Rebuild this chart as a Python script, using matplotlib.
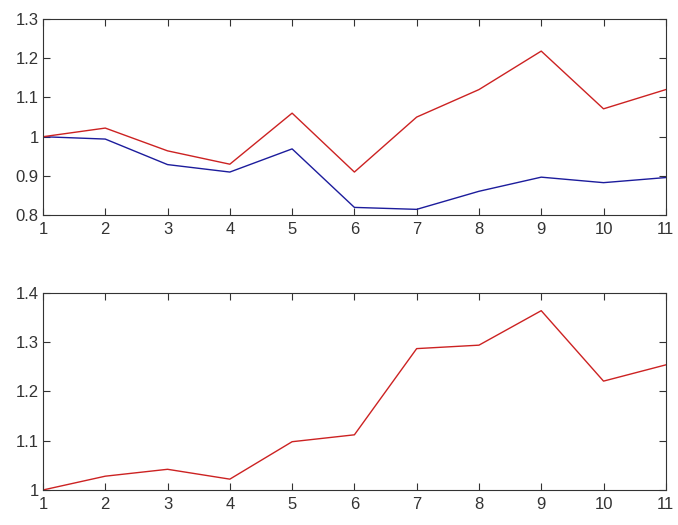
import matplotlib
matplotlib.use("Agg")
from matplotlib import pyplot as plt

plt.rcParams['font.family'] = ['Liberation Sans', 'DejaVu Sans']

x = [1, 2, 3, 4, 5, 6, 7, 8, 9, 10, 11]

# top panel
top_red = [1.0, 1.022, 0.964, 0.93, 1.06, 0.91, 1.05, 1.12, 1.218, 1.071, 1.12]
top_blue = [1.0, 0.994, 0.929, 0.91, 0.969, 0.82, 0.815, 0.861, 0.897, 0.883, 0.896]

# bottom panel
bottom_red = [1.0, 1.028, 1.042, 1.022, 1.098, 1.112, 1.287, 1.294, 1.364, 1.221, 1.254]

top_yticks = [0.8, 0.9, 1.0, 1.1, 1.2, 1.3]
top_ylabels = ['0.8', '0.9', '1', '1.1', '1.2', '1.3']
bottom_yticks = [1.0, 1.1, 1.2, 1.3, 1.4]
bottom_ylabels = ['1', '1.1', '1.2', '1.3', '1.4']

red = '#cc2222'
blue = '#1c1c9c'

fig = plt.figure(figsize=(6.78, 5.25), dpi=100)
ax1 = fig.add_axes([0.0634, 0.590, 0.9186, 0.374])
ax2 = fig.add_axes([0.0634, 0.0667, 0.9186, 0.3753])

ax1.plot(x, top_blue, color=blue, linewidth=1)
ax1.plot(x, top_red, color=red, linewidth=1)
ax1.set_ylim(0.8, 1.3)
ax1.set_yticks(top_yticks)
ax1.set_yticklabels(top_ylabels)

ax2.plot(x, bottom_red, color=red, linewidth=1)
ax2.set_ylim(1.0, 1.4)
ax2.set_yticks(bottom_yticks)
ax2.set_yticklabels(bottom_ylabels)

for ax in (ax1, ax2):
    ax.set_xlim(1, 11)
    ax.set_xticks(x)
    ax.tick_params(direction='in', top=True, right=True, length=5,
                   labelsize=12, colors='#333333', width=0.8)
    ax.tick_params(axis='x', pad=5)
    ax.tick_params(axis='y', pad=3)
    for s in ax.spines.values():
        s.set_color('#333333')
        s.set_linewidth(0.8)

fig.savefig('out.png', dpi=100)
